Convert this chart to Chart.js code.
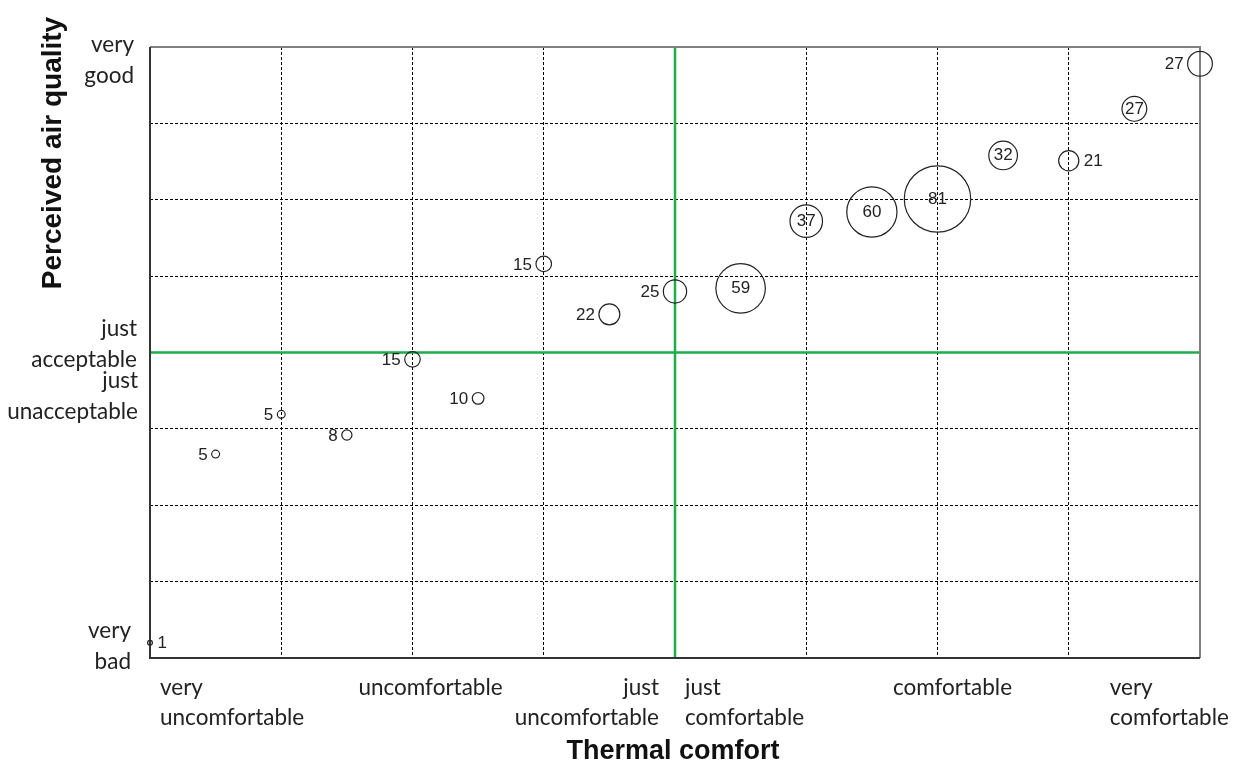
<!DOCTYPE html>
<html>
<head>
<meta charset="utf-8">
<script src="https://cdn.jsdelivr.net/npm/chart.js@4.4.1/dist/chart.umd.min.js"></script>
<style>
  html, body { margin: 0; padding: 0; background: #fff; }
  #wrap { width: 1235px; height: 764px; }
</style>
</head>
<body>
<div id="wrap"><canvas id="bubbles"></canvas></div>
<script>
// thermal comfort (0 = very uncomfortable ... 8 = very comfortable)
const thermal = [0, 0.5, 1, 1.5, 2, 2.5, 3, 3.5, 4, 4.5, 5, 5.5, 6, 6.5, 7, 7.5, 8];
// perceived air quality (0 = very bad ... 8 = very good)
const airQuality = [0.2, 2.67, 3.19, 2.92, 3.91, 3.4, 5.16, 4.5, 4.8, 4.84, 5.72, 5.84, 6.01, 6.58, 6.51, 7.19, 7.78];
// number of votes per bubble
const counts = [1, 5, 5, 8, 15, 10, 15, 22, 25, 59, 37, 60, 81, 32, 21, 27, 27];
// where the count is written: l = left, r = right, c = inside
const labelSide = ['r', 'l', 'l', 'l', 'l', 'l', 'l', 'l', 'l', 'c', 'c', 'c', 'c', 'c', 'r', 'c', 'l'];

const xTickText = [['very', 'uncomfortable'], ['uncomfortable'], ['just', 'uncomfortable'], ['just', 'comfortable'], ['comfortable'], ['very', 'comfortable']];
const yTickText = [['very', 'good'], ['just', 'acceptable'], ['just', 'unacceptable'], ['very', 'bad']];
const xTitle = 'Thermal comfort';
const yTitle = 'Perceived air quality';

const GREEN = '#1dae4a';
const TICK_FONT = '22.5px Lato, "Open Sans", sans-serif';

const points = thermal.map((x, i) => ({ x: x, y: airQuality[i], r: 2 + 0.385 * counts[i] }));

const decorPlugin = {
  id: 'decor',
  beforeDatasetsDraw(chart) {
    const { ctx, chartArea: a, scales: { x, y } } = chart;
    ctx.save();
    // green reference lines
    ctx.strokeStyle = GREEN;
    ctx.lineWidth = 2.5;
    ctx.beginPath();
    ctx.moveTo(x.getPixelForValue(4), a.top);
    ctx.lineTo(x.getPixelForValue(4), a.bottom);
    ctx.moveTo(a.left, y.getPixelForValue(4));
    ctx.lineTo(a.right, y.getPixelForValue(4));
    ctx.stroke();
    // frame
    ctx.lineWidth = 2;
    ctx.strokeStyle = '#808080';
    ctx.beginPath();
    ctx.moveTo(a.left, a.top);
    ctx.lineTo(a.right, a.top);
    ctx.lineTo(a.right, a.bottom);
    ctx.stroke();
    ctx.strokeStyle = '#333';
    ctx.beginPath();
    ctx.moveTo(a.left, a.top);
    ctx.lineTo(a.left, a.bottom);
    ctx.lineTo(a.right, a.bottom);
    ctx.stroke();
    ctx.restore();
  },
  afterDatasetsDraw(chart) {
    const { ctx, chartArea: a, scales: { x, y } } = chart;
    const meta = chart.getDatasetMeta(0);
    ctx.save();
    ctx.fillStyle = '#222';
    ctx.font = '17px "Liberation Sans", Arial, sans-serif';
    ctx.textBaseline = 'middle';
    meta.data.forEach((el, i) => {
      const r = points[i].r;
      const side = labelSide[i];
      if (side === 'c') {
        ctx.textAlign = 'center';
        ctx.fillText(counts[i], el.x, el.y);
      } else if (side === 'l') {
        ctx.textAlign = 'right';
        ctx.fillText(counts[i], el.x - r - 4, el.y + 1);
      } else {
        ctx.textAlign = 'left';
        ctx.fillText(counts[i], el.x + r + 5, el.y + 1);
      }
    });

    // category labels under the x axis
    ctx.font = TICK_FONT;
    ctx.fillStyle = '#222';
    const lh = 30;
    const ty = a.bottom + 30;
    const xPlace = [
      [x.getPixelForValue(0) + 10, 'left'],
      [x.getPixelForValue(2) + 18, 'center'],
      [x.getPixelForValue(4) - 16, 'right'],
      [x.getPixelForValue(4) + 10, 'left'],
      [x.getPixelForValue(6) + 15, 'center'],
      [x.getPixelForValue(7) + 41, 'left']
    ];
    xTickText.forEach((lines, i) => {
      ctx.textAlign = xPlace[i][1];
      lines.forEach((t, j) => ctx.fillText(t, xPlace[i][0], ty + j * lh));
    });

    // category labels left of the y axis
    const yPlace = [
      [y.getPixelForValue(8) - 2, a.left - 16],
      [y.getPixelForValue(4) - 24, a.left - 13],
      [y.getPixelForValue(4) + 28, a.left - 12],
      [y.getPixelForValue(0) - 27, a.left - 19]
    ];
    ctx.textAlign = 'right';
    yTickText.forEach((lines, i) => {
      lines.forEach((t, j) => ctx.fillText(t, yPlace[i][1], yPlace[i][0] + j * 31));
    });

    // axis titles
    ctx.fillStyle = '#111';
    ctx.textAlign = 'center';
    ctx.font = 'bold 27px "Liberation Sans", Arial, sans-serif';
    ctx.fillText(xTitle, (a.left + a.right) / 2 - 2, 752);
    ctx.font = 'bold 28px "Liberation Sans", Arial, sans-serif';
    ctx.translate(53, 153);
    ctx.rotate(-Math.PI / 2);
    ctx.fillText(yTitle, 0, 0);
    ctx.restore();
  }
};

const gridColor = (c) => (c.tick && c.tick.value === 4 ? 'rgba(0,0,0,0)' : '#000');

new Chart(document.getElementById('bubbles'), {
  type: 'bubble',
  data: {
    datasets: [{
      data: points,
      backgroundColor: 'rgba(0,0,0,0)',
      borderColor: '#222',
      borderWidth: 1.2,
      clip: false
    }]
  },
  options: {
    responsive: true,
    maintainAspectRatio: false,
    animation: false,
    layout: { padding: { left: 150, top: 47, right: 35, bottom: 106 } },
    plugins: { legend: { display: false }, tooltip: { enabled: false } },
    scales: {
      x: {
        type: 'linear', min: 0, max: 8,
        ticks: { stepSize: 1, display: false },
        grid: { color: gridColor, lineWidth: 1, drawTicks: false },
        border: { display: false, dash: [3, 2] }
      },
      y: {
        type: 'linear', min: 0, max: 8,
        ticks: { stepSize: 1, display: false },
        grid: { color: gridColor, lineWidth: 1, drawTicks: false },
        border: { display: false, dash: [3, 2] }
      }
    }
  },
  plugins: [decorPlugin]
});
</script>
</body>
</html>
